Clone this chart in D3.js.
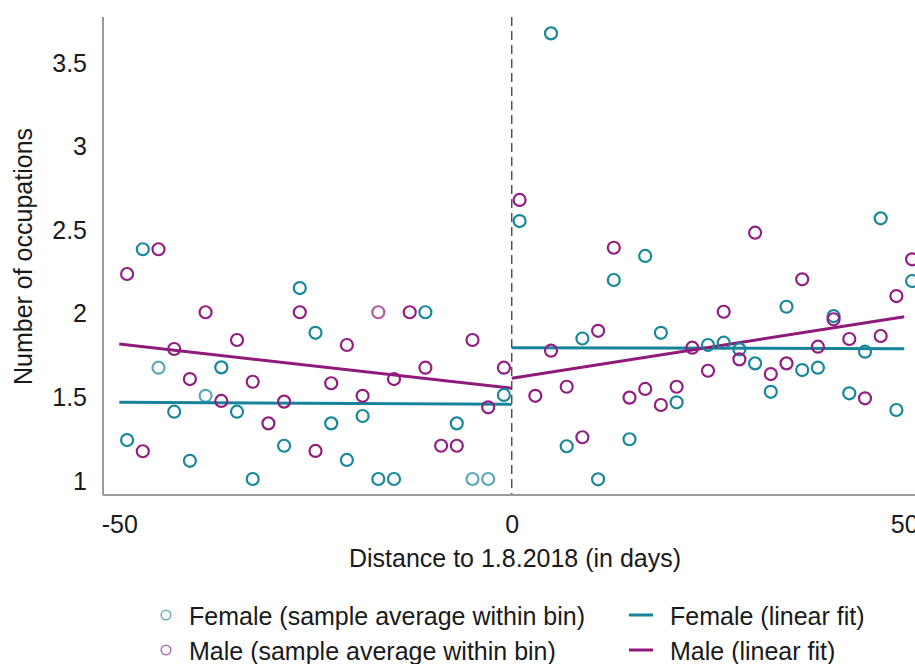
<!DOCTYPE html>
<html>
<head>
<meta charset="utf-8">
<script src="https://cdn.jsdelivr.net/npm/d3@7"></script>
<style>
  html, body { margin: 0; padding: 0; background: #fff; }
  svg { display: block; }
  text { font-family: "Liberation Sans", Arial, sans-serif; fill: #1a1a1a; }
</style>
</head>
<body>
<svg id="chart" width="915" height="664"></svg>
<script>
// ---- data ----
const leftDays  = [-49,-47,-45,-43,-41,-39,-37,-35,-33,-31,-29,-27,-25,-23,-21,-19,-17,-15,-13,-11,-9,-7,-5,-3,-1];
const rightDays = [1,3,5,7,9,11,13,15,17,19,21,23,25,27,29,31,33,35,37,39,41,43,45,47,49,51];

const femaleLeft  = [1.239,2.381,1.672,1.409,1.115,1.504,1.674,1.409,1.006,null,1.205,2.149,1.881,1.339,1.120,1.383,1.006,1.006,null,2.004,null,1.339,1.006,1.006,1.509];
const maleLeft    = [2.233,1.172,2.381,1.784,1.604,2.004,1.473,1.838,1.588,1.339,1.469,2.004,1.174,1.579,1.808,1.504,2.004,1.604,2.004,1.672,1.205,1.205,1.838,1.435,1.672];
const femaleRight = [2.550,null,3.673,1.202,1.847,1.004,2.197,1.244,2.341,1.881,1.465,null,1.808,1.822,1.782,1.698,1.528,2.037,1.658,1.672,1.981,1.519,1.768,2.566,1.419,2.191];
const maleRight   = [2.676,1.504,1.774,1.558,1.256,1.893,2.390,1.493,1.545,1.449,1.558,1.792,1.654,2.007,1.722,2.480,1.634,1.698,2.201,1.798,1.962,1.844,1.489,1.862,2.101,2.321];

// bins drawn lighter in the reference (small cell size)
const femaleLightDays = [-45,-39,-5,-3];
const maleLightDays   = [-17];

// linear fits: [value at start, value at end]
const fitDaysLeft  = [-50, 0];
const fitDaysRight = [0, 50];
const femaleFitLeft  = [1.465, 1.453];
const maleFitLeft    = [1.814, 1.549];
const femaleFitRight = [1.792, 1.786];
const maleFitRight   = [1.609, 1.977];

const xTicks = [-50, 0, 50];
const xTickLabels = ["-50", "0", "50"];
const yTicks = [1, 1.5, 2, 2.5, 3, 3.5];
const yTickLabels = ["1", "1.5", "2", "2.5", "3", "3.5"];

const xTitle = "Distance to 1.8.2018 (in days)";
const yTitle = "Number of occupations";
const legendItems = [
  {label: "Female (sample average within bin)", kind: "circle", series: "female"},
  {label: "Male (sample average within bin)",   kind: "circle", series: "male"},
  {label: "Female (linear fit)", kind: "line", series: "female"},
  {label: "Male (linear fit)",   kind: "line", series: "male"}
];

// ---- styles ----
const colors = { female: "#17879b", male: "#931c80" };
const lineColors = { female: "#17849a", male: "#8f1a7c" };

const svg = d3.select("#chart");
const x = d3.scaleLinear().domain([-50, 50]).range([119.25, 904.25]);
const y = d3.scaleLinear().domain([1, 3.5]).range([480, 62.3]);

const axisColor = "#9a9a9a";
const xLeft = 103, xRight = 915, yTop = 17, yBottom = 495;

// dashed cutoff line
svg.append("line")
  .attr("x1", x(0)).attr("x2", x(0))
  .attr("y1", yTop).attr("y2", yBottom)
  .attr("stroke", "#4a4a4a").attr("stroke-width", 1.4)
  .attr("stroke-dasharray", "9,5");

// fit lines
const lineGen = d3.line().x(d => x(d[0])).y(d => y(d[1]));
function drawFit(days, vals, series) {
  svg.append("path")
    .datum(days.map((d, i) => [d, vals[i]]))
    .attr("d", lineGen)
    .attr("fill", "none")
    .attr("stroke", lineColors[series])
    .attr("stroke-width", 3);
}
drawFit(fitDaysLeft, femaleFitLeft, "female");
drawFit(fitDaysRight, femaleFitRight, "female");
drawFit(fitDaysLeft, maleFitLeft, "male");
drawFit(fitDaysRight, maleFitRight, "male");

// scatter points
function drawPoints(days, vals, series, lightDays) {
  const pts = days.map((d, i) => ({d, v: vals[i]})).filter(p => p.v !== null);
  svg.append("g").selectAll("circle")
    .data(pts).join("circle")
    .attr("cx", p => x(p.d))
    .attr("cy", p => y(p.v))
    .attr("r", 6)
    .attr("fill", "none")
    .attr("stroke", colors[series])
    .attr("stroke-width", 2.2)
    .attr("stroke-opacity", p => lightDays.includes(p.d) ? 0.72 : 1);
}
drawPoints(leftDays, femaleLeft, "female", femaleLightDays);
drawPoints(rightDays, femaleRight, "female", femaleLightDays);
drawPoints(leftDays, maleLeft, "male", maleLightDays);
drawPoints(rightDays, maleRight, "male", maleLightDays);

// axis lines
svg.append("line").attr("x1", xLeft).attr("x2", xLeft).attr("y1", yTop).attr("y2", yBottom)
  .attr("stroke", axisColor).attr("stroke-width", 2);
svg.append("line").attr("x1", xLeft).attr("x2", xRight).attr("y1", yBottom).attr("y2", yBottom)
  .attr("stroke", axisColor).attr("stroke-width", 2);

// y axis labels
const yAxis = d3.axisLeft(y).tickValues(yTicks).tickSize(0)
  .tickFormat((d, i) => yTickLabels[i]);
const gy = svg.append("g").attr("transform", "translate(87,0)").call(yAxis);
gy.select(".domain").remove();
gy.selectAll("text").attr("x", 0).attr("dy", "0.36em")
  .style("font-size", "25px").style("font-family", "'Liberation Sans', Arial, sans-serif").attr("fill", "#1a1a1a");

// x axis labels
const xAxis = d3.axisBottom(x).tickValues(xTicks).tickSize(0)
  .tickFormat((d, i) => xTickLabels[i]);
const gx = svg.append("g").attr("transform", "translate(0,515)").call(xAxis);
gx.select(".domain").remove();
gx.selectAll("text").attr("y", 0).attr("dy", "0.71em")
  .style("font-size", "25px").style("font-family", "'Liberation Sans', Arial, sans-serif").attr("fill", "#1a1a1a");

// titles
svg.append("text").attr("x", 515).attr("y", 566.5).attr("text-anchor", "middle")
  .style("font-size", "25px").text(xTitle);
svg.append("text").attr("transform", "translate(32,256.5) rotate(-90)").attr("text-anchor", "middle")
  .style("font-size", "25px").text(yTitle);

// legend
const legendPos = [
  {mx: 166, tx: 189, y: 615},
  {mx: 166, tx: 189, y: 650},
  {mx: 641, tx: 670, y: 615},
  {mx: 641, tx: 670, y: 650}
];
const lg = svg.append("g");
legendItems.forEach((it, i) => {
  const p = legendPos[i];
  if (it.kind === "circle") {
    lg.append("circle").attr("cx", p.mx).attr("cy", p.y).attr("r", 4.8)
      .attr("fill", "none").attr("stroke", colors[it.series]).attr("stroke-width", 1.5)
      .attr("stroke-opacity", 0.65);
  } else {
    lg.append("line").attr("x1", p.mx - 12).attr("x2", p.mx + 12).attr("y1", p.y).attr("y2", p.y)
      .attr("stroke", lineColors[it.series]).attr("stroke-width", 3);
  }
  lg.append("text").attr("x", p.tx).attr("y", p.y + 10)
    .style("font-size", "25px").text(it.label);
});
</script>
</body>
</html>
